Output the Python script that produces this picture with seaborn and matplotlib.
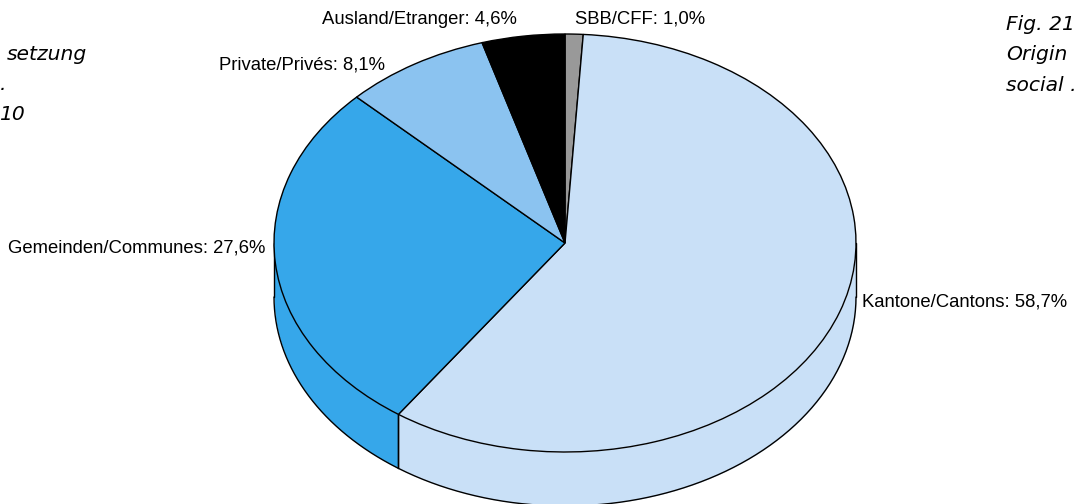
import numpy as np
import matplotlib
matplotlib.use("Agg")
import matplotlib.pyplot as plt
import seaborn as sns

# values in percent, clockwise from 12 o'clock
labels = ["SBB/CFF: 1,0%", "Kantone/Cantons: 58,7%", "Gemeinden/Communes: 27,6%",
          "Private/Privés: 8,1%", "Ausland/Etranger: 4,6%"]
values = [1.0, 58.7, 27.6, 8.1, 4.6]
colors = ["#999999", "#c9e0f7", "#36a7ea", "#8bc3f0", "#000000"]
captions_left = ["setzung", ".", "10"]
captions_right = ["Fig. 21", "Origin", "social ."]

W, H = 1076, 504
cx, cy, rx, ry, depth = 565, 243, 291, 209, 54

sns.set_theme(style="white")
plt.rcParams["font.family"] = ["Liberation Sans", "DejaVu Sans"]

fig = plt.figure(figsize=(W / 100, H / 100), dpi=100)
ax = fig.add_axes([0, 0, 1, 1])

edge = {"edgecolor": "black", "linewidth": 1.0}
ax.pie(values, colors=colors, startangle=90, counterclock=False,
       wedgeprops={**edge, "zorder": 3}, normalize=True)
ax.set_aspect("auto")
d = depth / ry
line = {"color": "black", "lw": 1.0, "zorder": 2, "solid_capstyle": "round"}

# side wall, only the front half of the ellipse is visible
start = 90.0
for val, col in zip(values, colors):
    end = start - val * 3.6
    lo, hi = max(end, -180), min(start, 0)
    if lo < hi:
        t = np.radians(np.linspace(lo, hi, 200))
        ax.fill_between(np.cos(t), np.sin(t), np.sin(t) - d, color=col, lw=0, zorder=1)
        ax.plot(np.cos(t), np.sin(t) - d, **line)
        for a in (lo, hi):
            if a not in (-180, 0):
                ax.plot([np.cos(np.radians(a))] * 2,
                        [np.sin(np.radians(a)), np.sin(np.radians(a)) - d], **line)
    start = end
for x in (-1, 1):
    ax.plot([x, x], [0, -d], **line)

ax.set_xlim(-cx / rx, (W - cx) / rx)
ax.set_ylim((cy - H) / ry, cy / ry)
ax.axis("off")


def px_text(x, y, s, **kw):
    fig.text(x / W, 1 - y / H, s, va="center", **kw)


label_pos = [(575, 19, "left"), (862, 302, "left"), (265, 248, "right"),
             (385, 65, "right"), (517, 20, "right")]
for s, (x, y, ha) in zip(labels, label_pos):
    px_text(x, y, s, ha=ha, fontsize=13.3, color="black")

for s, y in zip(captions_left, [54, 84, 115]):
    px_text(87 if s == "setzung" else (6 if s == "." else 25), y, s, ha="right",
            fontsize=14.6, style="italic", family="DejaVu Sans", color="black")
for s, y in zip(captions_right, [25, 55, 85]):
    px_text(1006, y, s, ha="left", fontsize=14.6, style="italic",
            family="DejaVu Sans", color="black")

fig.savefig("out.png", dpi=100, facecolor="white")
